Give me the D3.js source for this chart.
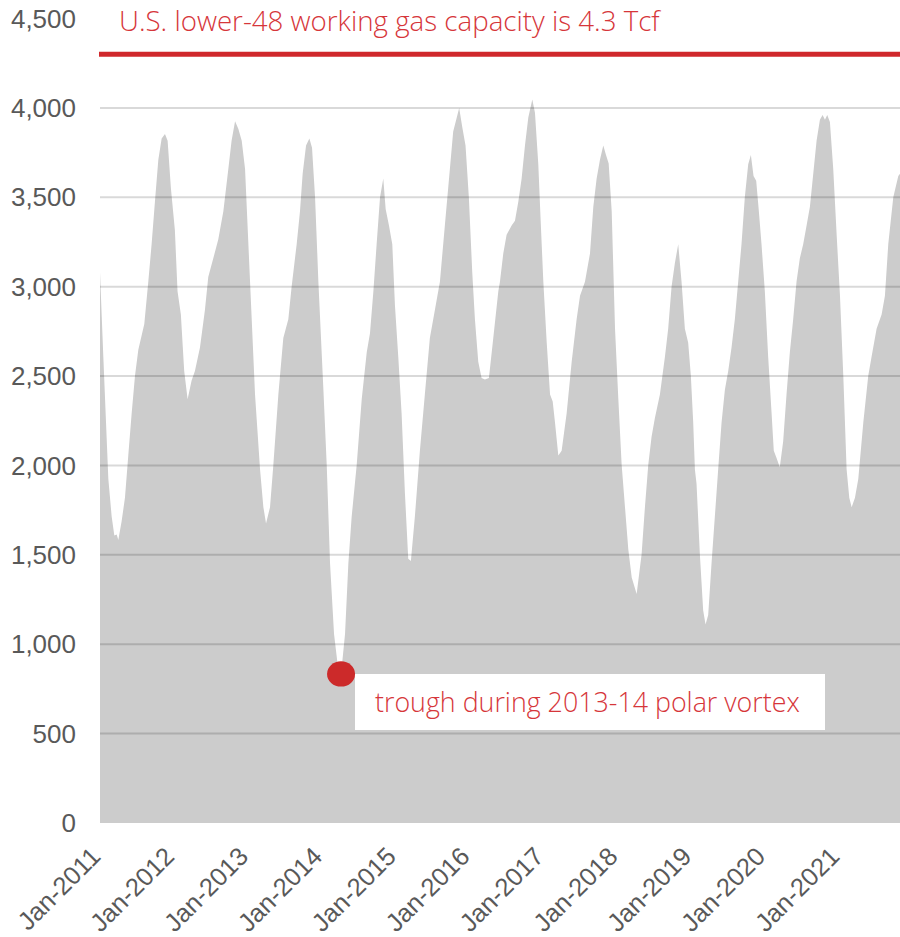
<!DOCTYPE html>
<html lang="en">
<head>
    <meta charset="UTF-8">
    <title>U.S. lower-48 working gas in storage</title>
    <script src="https://d3js.org/d3.v7.min.js"></script>
    <style>
        body {
            margin: 0;
            background-color: white;
        }
        .chart {
            display: block;
        }
        .y-label, .x-label {
            font-family: "Liberation Sans", Arial, sans-serif;
            fill: #595959;
        }
        .note {
            font-family: "Open Sans", sans-serif;
            font-weight: 300;
            fill: #d6363a;
        }
    </style>
</head>
<body>
    <svg class="chart" width="900" height="937"></svg>

    <script>
        // weekly storage: decimal year, Bcf
        const yearPos = [
            2011.000, 2011.045, 2011.113, 2011.158, 2011.194, 2011.226, 2011.248, 2011.293, 2011.338, 2011.383,
            2011.429, 2011.474, 2011.519, 2011.600, 2011.654, 2011.699, 2011.744, 2011.790, 2011.835, 2011.880,
            2011.916, 2011.960, 2012.014, 2012.050, 2012.095, 2012.140, 2012.186, 2012.240, 2012.285, 2012.353,
            2012.420, 2012.465, 2012.533, 2012.600, 2012.669, 2012.736, 2012.780, 2012.827, 2012.872, 2012.917,
            2012.962, 2013.007, 2013.052, 2013.097, 2013.165, 2013.210, 2013.246, 2013.300, 2013.345, 2013.413,
            2013.480, 2013.548, 2013.593, 2013.661, 2013.706, 2013.742, 2013.788, 2013.833, 2013.869, 2013.910,
            2013.955, 2014.023, 2014.068, 2014.113, 2014.167, 2014.212, 2014.262, 2014.316, 2014.361, 2014.406,
            2014.474, 2014.542, 2014.610, 2014.654, 2014.700, 2014.744, 2014.790, 2014.834, 2014.866, 2014.911,
            2014.956, 2014.992, 2015.037, 2015.082, 2015.127, 2015.172, 2015.208, 2015.262, 2015.330, 2015.397,
            2015.465, 2015.533, 2015.601, 2015.668, 2015.736, 2015.781, 2015.862, 2015.903, 2015.948, 2015.993,
            2016.039, 2016.075, 2016.120, 2016.165, 2016.210, 2016.264, 2016.323, 2016.391, 2016.413, 2016.458,
            2016.503, 2016.571, 2016.616, 2016.661, 2016.706, 2016.751, 2016.796, 2016.850, 2016.886, 2016.931,
            2016.963, 2016.999, 2017.045, 2017.090, 2017.126, 2017.157, 2017.202, 2017.247, 2017.315, 2017.383,
            2017.450, 2017.496, 2017.563, 2017.631, 2017.676, 2017.721, 2017.766, 2017.811, 2017.848, 2017.884,
            2017.925, 2017.970, 2018.015, 2018.060, 2018.105, 2018.150, 2018.196, 2018.263, 2018.330, 2018.375,
            2018.420, 2018.465, 2018.510, 2018.578, 2018.646, 2018.690, 2018.736, 2018.781, 2018.826, 2018.871,
            2018.916, 2018.961, 2018.997, 2019.029, 2019.052, 2019.074, 2019.119, 2019.164, 2019.196, 2019.232,
            2019.277, 2019.322, 2019.367, 2019.413, 2019.458, 2019.503, 2019.548, 2019.593, 2019.638, 2019.683,
            2019.728, 2019.774, 2019.810, 2019.846, 2019.882, 2019.918, 2019.954, 2019.999, 2020.044, 2020.089,
            2020.120, 2020.156, 2020.201, 2020.247, 2020.292, 2020.337, 2020.382, 2020.427, 2020.472, 2020.517,
            2020.563, 2020.608, 2020.653, 2020.698, 2020.743, 2020.779, 2020.811, 2020.842, 2020.878, 2020.923,
            2020.969, 2021.014, 2021.059, 2021.104, 2021.140, 2021.172, 2021.217, 2021.262, 2021.330, 2021.397,
            2021.442, 2021.510, 2021.578, 2021.623, 2021.668, 2021.736, 2021.804, 2021.827
        ];
        const storageBcf = [
            3080, 2608, 1925, 1714, 1609, 1614, 1583, 1688, 1819, 2056,
            2292, 2502, 2647, 2792, 3028, 3238, 3475, 3711, 3829, 3855,
            3816, 3553, 3317, 2975, 2844, 2529, 2371, 2476, 2529, 2660,
            2870, 3054, 3159, 3264, 3422, 3658, 3816, 3926, 3882, 3816,
            3658, 3238, 2818, 2397, 1977, 1767, 1675, 1767, 2003, 2397,
            2713, 2818, 3002, 3238, 3422, 3632, 3790, 3829, 3777, 3501,
            3028, 2424, 2003, 1452, 1058, 900, 834, 1058, 1452, 1714,
            2003, 2371, 2634, 2740, 2975, 3238, 3501, 3606, 3435, 3343,
            3238, 2897, 2608, 2292, 1846, 1478, 1465, 1714, 2082, 2397,
            2713, 2870, 3028, 3343, 3658, 3869, 4000, 3895, 3790, 3501,
            3080, 2818, 2581, 2489, 2481, 2489, 2713, 2975, 3028, 3186,
            3291, 3343, 3369, 3475, 3606, 3790, 3947, 4047, 3974, 3685,
            3369, 3028, 2686, 2397, 2358, 2240, 2056, 2082, 2292, 2581,
            2818, 2949, 3028, 3186, 3448, 3606, 3711, 3790, 3737, 3690,
            3422, 2765, 2371, 2003, 1767, 1530, 1373, 1281, 1504, 1767,
            2003, 2161, 2266, 2397, 2608, 2765, 3002, 3133, 3238, 3028,
            2765, 2686, 2502, 2240, 1977, 1898, 1504, 1189, 1110, 1163,
            1452, 1714, 1977, 2240, 2424, 2529, 2660, 2818, 3028, 3238,
            3501, 3685, 3737, 3619, 3593, 3422, 3238, 2975, 2608, 2300,
            2082, 2043, 1990, 2135, 2397, 2634, 2818, 3028, 3159, 3238,
            3343, 3448, 3632, 3816, 3934, 3961, 3934, 3961, 3921, 3658,
            3291, 2949, 2502, 1977, 1819, 1767, 1819, 1925, 2240, 2502,
            2608, 2765, 2844, 2949, 3238, 3501, 3619, 3632
        ];

        const yTicks = [0, 500, 1000, 1500, 2000, 2500, 3000, 3500, 4000, 4500];
        const gridTicks = [500, 1000, 1500, 2000, 2500, 3000, 3500, 4000];
        const xTickYears = [2011, 2012, 2013, 2014, 2015, 2016, 2017, 2018, 2019, 2020, 2021];

        const capacityBcf = 4300;
        const capacityNote = "U.S. lower-48 working gas capacity is 4.3 Tcf";
        const troughYear = 2014.262;
        const troughBcf = 834;
        const troughNote = "trough during 2013-14 polar vortex";

        function toDate(y) {
            const yr = Math.floor(y);
            const a = Date.UTC(yr, 0, 1), b = Date.UTC(yr + 1, 0, 1);
            return new Date(a + (y - yr) * (b - a));
        }

        const data = yearPos.map((y, i) => ({ date: toDate(y), value: storageBcf[i] }));

        const svg = d3.select(".chart");

        const x = d3.scaleUtc()
            .domain(d3.extent(data, d => d.date))
            .range([100, 900]);
        const y = d3.scaleLinear()
            .domain([0, 4500])
            .range([823, 18.6]);

        // gray area
        const area = d3.area()
            .x(d => x(d.date))
            .y0(y(0))
            .y1(d => y(d.value));

        svg.append("path")
            .datum(data)
            .attr("fill", "#cccccc")
            .attr("d", area);

        // gridlines on top of the area
        svg.append("g")
            .selectAll("line")
            .data(gridTicks)
            .join("line")
            .attr("x1", 100)
            .attr("x2", 900)
            .attr("y1", d => y(d))
            .attr("y2", d => y(d))
            .attr("stroke", "rgba(0,0,0,0.15)")
            .attr("stroke-width", 2);

        // y labels
        svg.append("g")
            .selectAll("text")
            .data(yTicks)
            .join("text")
            .attr("class", "y-label")
            .attr("x", 76)
            .attr("y", d => y(d))
            .attr("dy", "0.35em")
            .attr("text-anchor", "end")
            .style("font-size", "26px")
            .text(d => d3.format(",")(d));

        // x labels, rotated
        svg.append("g")
            .selectAll("text")
            .data(xTickYears)
            .join("text")
            .attr("class", "x-label")
            .attr("text-anchor", "end")
            .attr("transform", d => `translate(${x(toDate(d)) + 2},${858}) rotate(-45)`)
            .style("font-size", "25.5px")
            .text(d => "Jan-" + d);

        // capacity line and note
        svg.append("line")
            .attr("x1", 99)
            .attr("x2", 900)
            .attr("y1", y(capacityBcf))
            .attr("y2", y(capacityBcf))
            .attr("stroke", "#d0282c")
            .attr("stroke-width", 5);

        svg.append("text")
            .attr("class", "note")
            .attr("x", 119)
            .attr("y", 31)
            .style("font-size", "27.7px")
            .text(capacityNote);

        // trough marker and label
        svg.append("rect")
            .attr("x", 355)
            .attr("y", 674)
            .attr("width", 470)
            .attr("height", 56)
            .attr("fill", "white");

        svg.append("text")
            .attr("class", "note")
            .attr("x", 375)
            .attr("y", 712)
            .style("font-size", "26.8px")
            .text(troughNote);

        svg.append("ellipse")
            .attr("cx", x(toDate(troughYear)))
            .attr("cy", y(troughBcf))
            .attr("rx", 14)
            .attr("ry", 12.7)
            .attr("fill", "#cc2a2a");
    </script>
</body>
</html>
